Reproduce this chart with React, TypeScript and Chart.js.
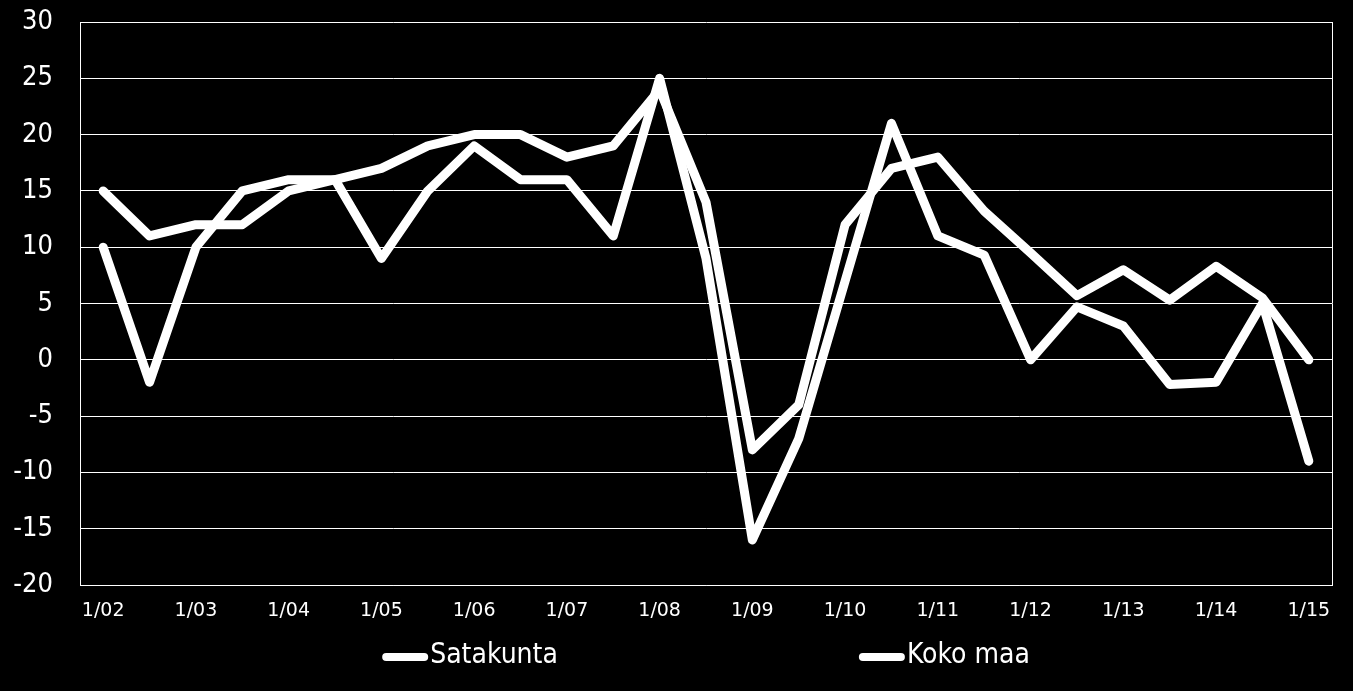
import { useEffect, useRef } from 'react';
import { Chart, registerables } from 'chart.js';

Chart.register(...registerables);

// half-year observations, labels shown only for January
const periods = [
    '1/02', '7/02', '1/03', '7/03', '1/04', '7/04', '1/05', '7/05', '1/06', '7/06',
    '1/07', '7/07', '1/08', '7/08', '1/09', '7/09', '1/10', '7/10', '1/11', '7/11',
    '1/12', '7/12', '1/13', '7/13', '1/14', '7/14', '1/15'
];

const satakunta = [
    10, -2, 10, 15, 16, 16, 9, 15, 19, 16,
    16, 11, 25, 9, -16, -7, 7, 21, 11, 9.3,
    0, 4.7, 3, -2.2, -2, 5, -9
];

const kokoMaa = [
    15, 11, 12, 12, 15, 16, 17, 19, 20, 20,
    18, 19, 24, 14, -8, -4, 12, 17, 18, 13.2,
    9.5, 5.7, 8, 5.3, 8.3, 5.5, 0
];

const Y_MIN = -20;
const Y_MAX = 30;
const Y_STEP = 5;

const condensed = '"DejaVu Sans Condensed", "Liberation Sans Narrow", "DejaVu Sans", sans-serif';

// right edge of the plot frame (left/top/bottom come from axes and grid)
const framePlugin = {
    id: 'frame',
    beforeDatasetsDraw(chart: Chart) {
        const { ctx, chartArea } = chart;
        ctx.save();
        ctx.strokeStyle = '#ffffff';
        ctx.lineWidth = 1;
        ctx.beginPath();
        ctx.moveTo(Math.round(chartArea.right) + 0.5, chartArea.top);
        ctx.lineTo(Math.round(chartArea.right) + 0.5, chartArea.bottom);
        ctx.stroke();
        ctx.restore();
    }
};

// legend with a wide gap between the two entries
const gapLegendPlugin = {
    id: 'gapLegend',
    afterDraw(chart: Chart) {
        const { ctx, chartArea } = chart;
        const sample = 46;
        const textGap = 2;
        const itemGap = 301;
        ctx.save();
        ctx.font = `28px ${condensed}`;
        ctx.textBaseline = 'middle';
        ctx.textAlign = 'left';
        const items = chart.data.datasets.map((ds) => ({
            text: ds.label as string,
            w: ctx.measureText(ds.label as string).width
        }));
        const total = items.reduce((s, it) => s + sample + textGap + it.w, 0) + itemGap * (items.length - 1);
        let x = (chartArea.left + chartArea.right) / 2 - total / 2;
        const y = 657;
        items.forEach((it) => {
            ctx.strokeStyle = '#ffffff';
            ctx.lineWidth = 8;
            ctx.lineCap = 'round';
            ctx.beginPath();
            ctx.moveTo(x + 4, y);
            ctx.lineTo(x + sample - 4, y);
            ctx.stroke();
            ctx.fillStyle = '#ffffff';
            ctx.fillText(it.text, x + sample + textGap, y - 1);
            x += sample + textGap + it.w + itemGap;
        });
        ctx.restore();
    }
};

function LineChart() {
    const canvasRef = useRef<HTMLCanvasElement>(null);
    const chartRef = useRef<Chart | null>(null);

    useEffect(() => {
        if (!canvasRef.current) return;
        const ctx = canvasRef.current.getContext('2d');
        if (!ctx) return;

        if (chartRef.current) chartRef.current.destroy();

        const lineStyle = {
            borderColor: '#ffffff',
            backgroundColor: '#ffffff',
            borderWidth: 9,
            pointRadius: 0,
            borderJoinStyle: 'round' as const,
            borderCapStyle: 'round' as const,
            tension: 0,
            fill: false
        };

        chartRef.current = new Chart(ctx, {
            type: 'line',
            data: {
                labels: periods,
                datasets: [
                    { label: 'Satakunta', data: satakunta, ...lineStyle },
                    { label: 'Koko maa', data: kokoMaa, ...lineStyle }
                ]
            },
            options: {
                animation: false,
                responsive: true,
                maintainAspectRatio: false,
                layout: { padding: { top: 22, right: 21, bottom: 56, left: 0 } },
                scales: {
                    x: {
                        offset: true,
                        grid: { display: false, drawTicks: false },
                        border: { display: true, color: '#ffffff', width: 1 },
                        ticks: {
                            autoSkip: false,
                            maxRotation: 0,
                            minRotation: 0,
                            padding: 15,
                            color: '#ffffff',
                            font: { family: '"DejaVu Sans", sans-serif', size: 19 },
                            callback(value, index) {
                                return index % 2 === 0 ? periods[index] : '';
                            }
                        },
                        afterFit(scale) {
                            scale.height = 50;
                            scale.paddingLeft = 0;
                            scale.paddingRight = 0;
                        }
                    },
                    y: {
                        min: Y_MIN,
                        max: Y_MAX,
                        grid: { color: '#ffffff', lineWidth: 1, drawTicks: false },
                        border: { display: true, color: '#ffffff', width: 1 },
                        ticks: {
                            stepSize: Y_STEP,
                            padding: 27,
                            color: '#ffffff',
                            font: { family: condensed, size: 27 }
                        },
                        afterFit(scale) {
                            scale.width = 80;
                            scale.paddingTop = 0;
                            scale.paddingBottom = 0;
                        }
                    }
                },
                plugins: {
                    legend: { display: false },
                    title: { display: false },
                    tooltip: { enabled: false }
                }
            },
            plugins: [framePlugin, gapLegendPlugin]
        });

        return () => {
            if (chartRef.current) {
                chartRef.current.destroy();
                chartRef.current = null;
            }
        };
    }, []);

    return <canvas ref={canvasRef} />;
}

export default function App() {
    return (
        <div style={{ position: 'fixed', left: 0, top: 0, width: '100vw', height: '100vh', background: '#000000' }}>
            <LineChart />
        </div>
    );
}
